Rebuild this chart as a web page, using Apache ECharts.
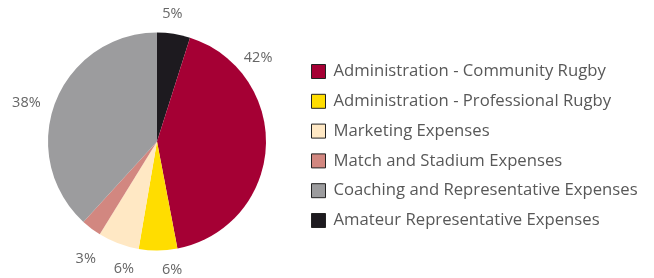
<!DOCTYPE html>
<html>
<head>
<meta charset="utf-8">
<script src="https://cdn.jsdelivr.net/npm/echarts@6/dist/echarts.min.js"></script>
<style>
  html, body { margin: 0; padding: 0; background: #fff; }
  #chart { width: 654px; height: 278px; }
</style>
</head>
<body>
<div id="chart"></div>
<script>
// slices in drawing order (clockwise from 12 o'clock)
const categories = [
    'Amateur Representative Expenses',
    'Administration - Community Rugby',
    'Administration - Professional Rugby',
    'Marketing Expenses',
    'Match and Stadium Expenses',
    'Coaching and Representative Expenses'
];
const values = [4.9, 42.1, 5.7, 6.1, 3.0, 38.2];
const colors = ['#1d1a1f', '#a50034', '#ffdd00', '#ffe8c4', '#d28780', '#9c9c9e'];
const legendOrder = [
    'Administration - Community Rugby',
    'Administration - Professional Rugby',
    'Marketing Expenses',
    'Match and Stadium Expenses',
    'Coaching and Representative Expenses',
    'Amateur Representative Expenses'
];

// nudges so the percent labels sit where the original put them
const labelOffsets = [[-17, -16], [-31, -90], [-1, 15], [22, 22], [12, 27], [-6, 2]];

const chart = echarts.init(document.getElementById('chart'));

const option = {
    backgroundColor: '#fff',
    animation: false,
    color: colors,
    legend: {
        orient: 'vertical',
        left: 311,
        top: 63,
        padding: 0,
        icon: 'rect',
        itemWidth: 14,
        itemHeight: 14,
        itemGap: 12.8,
        data: legendOrder,
        itemStyle: {
            borderColor: '#222',
            borderWidth: 1
        },
        textStyle: {
            fontFamily: 'Open Sans',
            fontSize: 16.7,
            color: '#585858',
            lineHeight: 15,
            padding: [0, 0, 0, 3]
        }
    },
    series: [
        {
            type: 'pie',
            center: [157, 141.5],
            radius: 109,
            startAngle: 90,
            clockwise: true,
            avoidLabelOverlap: false,
            data: categories.map((name, i) => ({
                name: name,
                value: values[i],
                label: { offset: labelOffsets[i] }
            })),
            itemStyle: {
                borderWidth: 0
            },
            label: {
                show: true,
                position: 'outside',
                formatter: (p) => Math.round(p.value) + '%',
                fontFamily: 'Open Sans',
                fontSize: 14.5,
                color: '#666'
            },
            labelLine: {
                show: false,
                length: 4,
                length2: 0
            },
            emphasis: { disabled: true }
        }
    ]
};

chart.setOption(option);
</script>
</body>
</html>
